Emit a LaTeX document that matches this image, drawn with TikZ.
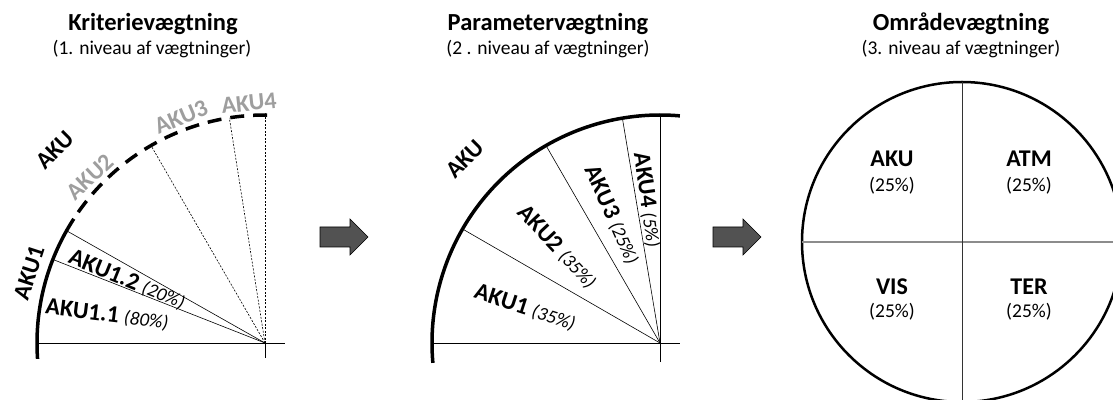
\documentclass[tikz,border=0pt]{standalone}
\usepackage{fontspec}
\setmainfont{Carlito}
\usetikzlibrary{calc}

\newcommand\andel[1]{{\mdseries\itshape\fontsize{19}{23}\selectfont(#1\%)}}

\begin{document}
\begin{tikzpicture}
	[
		x=1pt, y=1pt,
		title/.style = {font=\bfseries\fontsize{24.5}{28}\selectfont},
		subtitle/.style = {font=\fontsize{19.5}{23}\selectfont},
		lbl/.style = {font=\bfseries\fontsize{24}{28}\selectfont, inner sep=0pt},
		glbl/.style = {lbl, text=black!38},
		rim/.style = {line width=3.5pt},
		spoke/.style = {line width=0.6pt},
		dotspoke/.style = {spoke, dash pattern=on 2pt off 1.5pt},
		bigarrow/.style = {draw=black, line width=0.6pt, fill=black!68}
	]
	
	\useasboundingbox (0,0) rectangle (1113,399);
	\clip (0,0) rectangle (1113,399);
	
	\def\kr{228}
	
	% titles
	\node [title] (t1) at (153,375) {Kriterievægtning};
	\node [subtitle] (s1) at (152,350) {(1. niveau af vægtninger)};
	\node [title] (t2) at (548,375) {Parametervægtning};
	\node [subtitle] (s2) at (548,350) {(2 . niveau af vægtninger)};
	\node [title] (t3) at (961,375) {Områdevægtning};
	\node [subtitle] (s3) at (961,350) {(3. niveau af vægtninger)};
	
	% criteria weighting
	\coordinate (k) at (265,56);
	
	\draw [rim] (k) ++(184:\kr pt) arc [start angle=184, end angle=147, radius=\kr pt];
	\draw [rim, dash pattern=on 14pt off 9pt] (k) ++(145:\kr pt) arc [start angle=145, end angle=89, radius=\kr pt];
	
	\draw [spoke] (k) -- ++(158.5:\kr pt);
	\draw [spoke] (k) -- ++(150.5:\kr pt);
	\draw [dotspoke] (k) -- ++(120:\kr pt);
	\draw [dotspoke] (k) -- ++(99:\kr pt);
	\draw [dotspoke] (k) -- ++(90:\kr pt);
	\draw [spoke] ($(k)+(-227,0)$) -- ($(k)+(20,0)$);
	\draw [spoke] (k) -- ++(0,-15);
	
	\node [lbl, rotate=72] (aku1) at (29,126) {AKU1};
	\node [lbl, rotate=45] (aku) at (55,249) {AKU};
	\node [glbl, rotate=43] (aku2) at (90,222) {AKU2};
	\node [glbl, rotate=23] (aku3) at (181,282) {AKU3};
	\node [glbl, rotate=6] (aku4) at (249,296) {AKU4};
	\node [lbl, rotate=-22] (aku12) at (127,119) {AKU1.2 \andel{20}};
	\node [lbl, rotate=-7] (aku11) at (107,84) {AKU1.1 \andel{80}};
	
	% parameter weighting
	\coordinate (p) at (660,56);
	
	\draw [rim] (p) ++(185:\kr pt) arc [start angle=185, end angle=85, radius=\kr pt];
	
	\draw [spoke] (p) -- ++(150:\kr pt);
	\draw [spoke] (p) -- ++(120:\kr pt);
	\draw [spoke] (p) -- ++(99.5:\kr pt);
	\draw [spoke] ($(p)+(0,-19)$) -- ++(0,\kr+19);
	\draw [spoke] ($(p)+(-227,0)$) -- ($(p)+(20,0)$);
	
	\node [lbl, rotate=45] (paku) at (465,240) {AKU};
	\node [lbl, rotate=-18] (paku1) at (525,91) {AKU1 \andel{35}};
	\node [lbl, rotate=-47] (paku2) at (557,152) {AKU2 \andel{35}};
	\node [lbl, rotate=-66] (paku3) at (612,184) {AKU3 \andel{25}};
	\node [lbl, rotate=-82] (paku4) at (647,199) {AKU4 \andel{5}};
	
	% area weighting
	\coordinate (o) at (962,157);
	
	\draw [line width=2.5pt] (o) circle [radius=160pt];
	\draw [line width=1.2pt, black!45] ($(o)+(-160,0)$) -- ($(o)+(160,0)$);
	\draw [line width=0.8pt, black!80] ($(o)+(0,-160)$) -- ($(o)+(0,160)$);
	
	\node [lbl] (oaku) at (892,240) {AKU};
	\node [subtitle] (oakup) at (892,213) {(25\%)};
	\node [lbl] (oatm) at (1029,240) {ATM};
	\node [subtitle] (oatmp) at (1029,213) {(25\%)};
	\node [lbl] (ovis) at (892,112) {VIS};
	\node [subtitle] (ovisp) at (892,87) {(25\%)};
	\node [lbl] (oter) at (1029,112) {TER};
	\node [subtitle] (oterp) at (1029,87) {(25\%)};
	
	% arrows
	\def\x{320}
	\def\y{162}
	
	\draw [bigarrow] (\x, {\y - 10}) -- ({\x + 30}, {\y - 10}) -- ({\x + 30}, {\y - 18}) -- ({\x + 48}, \y)
		-- ({\x + 30}, {\y + 18}) -- ({\x + 30}, {\y + 10}) -- (\x, {\y + 10}) -- cycle;
	
	\def\x{713}
	
	\draw [bigarrow] (\x, {\y - 10}) -- ({\x + 30}, {\y - 10}) -- ({\x + 30}, {\y - 18}) -- ({\x + 48}, \y)
		-- ({\x + 30}, {\y + 18}) -- ({\x + 30}, {\y + 10}) -- (\x, {\y + 10}) -- cycle;
	
\end{tikzpicture}
\end{document}
